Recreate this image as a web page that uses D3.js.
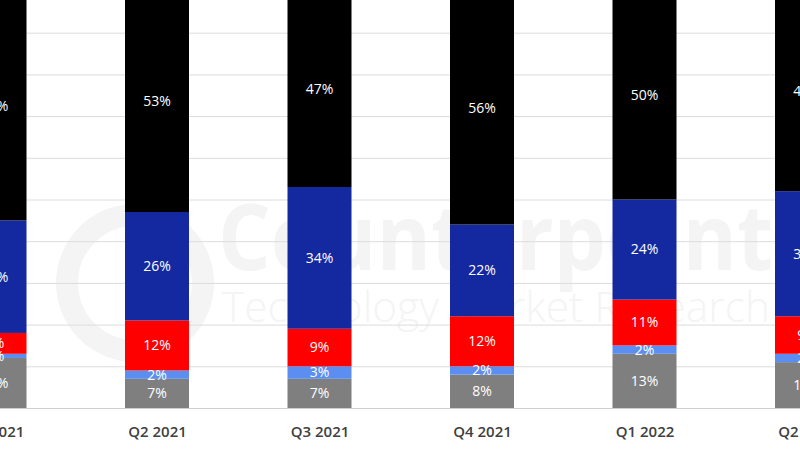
<!DOCTYPE html>
<html><head><meta charset="utf-8">
<script src="https://cdn.jsdelivr.net/npm/d3@7"></script>
<style>html,body{margin:0;padding:0;background:#fff;overflow:hidden}</style>
</head><body><svg id="c" width="800" height="450"></svg>
<script>
const categories = ["Q1 2021","Q2 2021","Q3 2021","Q4 2021","Q1 2022","Q2 2022"];
const seriesNames = ["Others","Light","Red","Blue","Black"];
const others = [12, 7, 7, 8, 13, 11];
const light  = [1, 2, 3, 2, 2, 2];
const red    = [5, 12, 9, 12, 11, 9];
const blue   = [27, 26, 34, 22, 24, 30];
const black  = [55, 53, 47, 56, 50, 48];
const colors = ["#7f7f7f","#5b8ef0","#ff0000","#1428a0","#000000"];
const yTicks = [0,10,20,30,40,50,60,70,80,90,100];

const svg = d3.select("#c");
const x = d3.scalePoint().domain(categories).range([-5.5, 807]);
const y = d3.scaleLinear().domain([0,100]).range([408, -9]);
const barW = 64;

// watermark
const wm = svg.append("g").attr("fill","none");
wm.append("circle").attr("cx",135).attr("cy",283).attr("r",68)
  .attr("stroke","#f4f4f4").attr("stroke-width",22);
wm.append("circle").attr("cx",160).attr("cy",250).attr("r",14).attr("fill","#f4f4f4");
wm.append("text").attr("x",218).attr("y",270).attr("font-family","Open Sans, sans-serif")
  .attr("font-weight",700).attr("font-size",92).attr("fill","#f4f4f4")
  .attr("textLength",555).attr("lengthAdjust","spacingAndGlyphs").text("Counterpoint");
wm.append("text").attr("x",222).attr("y",322).attr("font-family","Open Sans, sans-serif")
  .attr("font-weight",300).attr("font-size",42).attr("fill","#f4f4f4")
  .attr("textLength",548).attr("lengthAdjust","spacingAndGlyphs").text("Technology Market Research");

// gridlines
const grid = svg.append("g")
  .call(d3.axisLeft(y).tickValues(yTicks).tickSize(-800).tickFormat(""));
grid.select(".domain").remove();
grid.selectAll(".tick line").attr("stroke","#dcdcdc").attr("stroke-width",1);
grid.selectAll(".tick").filter(d=>d===0).select("line").attr("stroke","#cfcfcf");

// stacked data
const rows = categories.map((c,i)=>({cat:c, Others:others[i], Light:light[i], Red:red[i], Blue:blue[i], Black:black[i]}));
const stack = d3.stack().keys(seriesNames)(rows);

const layers = svg.append("g").selectAll("g").data(stack).join("g")
  .attr("fill",(d,i)=>colors[i]);
layers.selectAll("rect").data(d=>d).join("rect")
  .attr("x",d=>x(d.data.cat)-barW/2).attr("width",barW)
  .attr("y",d=>y(d[1])).attr("height",d=>y(d[0])-y(d[1]));

const labels = svg.append("g").attr("font-family","Open Sans, sans-serif").attr("font-size",14)
  .attr("fill","#fff").attr("text-anchor","middle");
stack.forEach(layer=>{
  layer.forEach(d=>{
    labels.append("text").attr("x",x(d.data.cat))
      .attr("y",(y(d[0])+y(d[1]))/2).attr("dy","0.35em")
      .text((d[1]-d[0])+"%");
  });
});

// category axis
const xa = svg.append("g").attr("transform","translate(0,408)")
  .call(d3.axisBottom(x).tickSize(0).tickPadding(18));
xa.select(".domain").remove();
xa.selectAll("text").attr("font-family","Open Sans, sans-serif").attr("font-size",15)
  .attr("font-weight",600).attr("fill","#404040");
</script></body></html>
